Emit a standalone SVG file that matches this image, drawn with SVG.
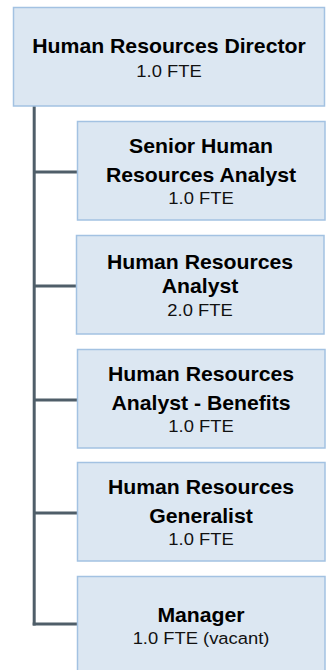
<svg xmlns="http://www.w3.org/2000/svg" width="326" height="670" viewBox="0 0 326 670">
<style>
.box{fill:#dce7f2;stroke:#a3c2e2;stroke-width:1.5}
.t{font-family:"Liberation Sans",Arial,sans-serif;font-weight:bold;font-size:19.3px;fill:#000;text-anchor:middle}
.f{font-family:"Liberation Sans",Arial,sans-serif;font-size:16.7px;fill:#111;text-anchor:middle}
.c{stroke:#4f5e69;stroke-width:3;fill:none}
</style>
<rect width="326" height="670" fill="#fff"/>
<g id="connectors">
<line class="c" x1="34.2" y1="106" x2="34.2" y2="625.5"/>
<line class="c" x1="34.2" y1="172" x2="77" y2="172"/>
<line class="c" x1="34.2" y1="286" x2="76" y2="286"/>
<line class="c" x1="34.2" y1="400" x2="77" y2="400"/>
<line class="c" x1="34.2" y1="513" x2="77" y2="513"/>
<line class="c" x1="32.7" y1="624" x2="77" y2="624"/>
</g>
<g id="director">
<rect class="box" x="13.5" y="7.5" width="311" height="98.5"/>
<g transform="translate(169,0) scale(1.1,1)">
<text class="t" x="0" y="53.3">Human Resources Director</text>
<text class="f" x="0" y="76.7">1.0 FTE</text>
</g>
</g>
<g id="senior-analyst">
<rect class="box" x="77.5" y="121.5" width="247.5" height="98.5"/>
<g transform="translate(201,0) scale(1.1,1)">
<text class="t" x="0" y="153.3">Senior Human</text>
<text class="t" x="0" y="181.7">Resources Analyst</text>
<text class="f" x="0" y="203.7">1.0 FTE</text>
</g>
</g>
<g id="analyst">
<rect class="box" x="76.5" y="235.5" width="247.5" height="98.5"/>
<g transform="translate(200,0) scale(1.1,1)">
<text class="t" x="0" y="269.3">Human Resources</text>
<text class="t" x="0" y="293.3">Analyst</text>
<text class="f" x="0" y="316.5">2.0 FTE</text>
</g>
</g>
<g id="analyst-benefits">
<rect class="box" x="77.5" y="349.5" width="247.5" height="98.5"/>
<g transform="translate(201,0) scale(1.1,1)">
<text class="t" x="0" y="380.7">Human Resources</text>
<text class="t" x="0" y="410">Analyst - Benefits</text>
<text class="f" x="0" y="431.7">1.0 FTE</text>
</g>
</g>
<g id="generalist">
<rect class="box" x="77.5" y="462.5" width="247.5" height="98.5"/>
<g transform="translate(201,0) scale(1.1,1)">
<text class="t" x="0" y="493.7">Human Resources</text>
<text class="t" x="0" y="522.7">Generalist</text>
<text class="f" x="0" y="545">1.0 FTE</text>
</g>
</g>
<g id="manager">
<rect class="box" x="77.5" y="576.5" width="247.5" height="98.5"/>
<g transform="translate(201,0) scale(1.1,1)">
<text class="t" x="0" y="621.7">Manager</text>
<text class="f" x="0" y="644">1.0 FTE (vacant)</text>
</g>
</g>
</svg>
